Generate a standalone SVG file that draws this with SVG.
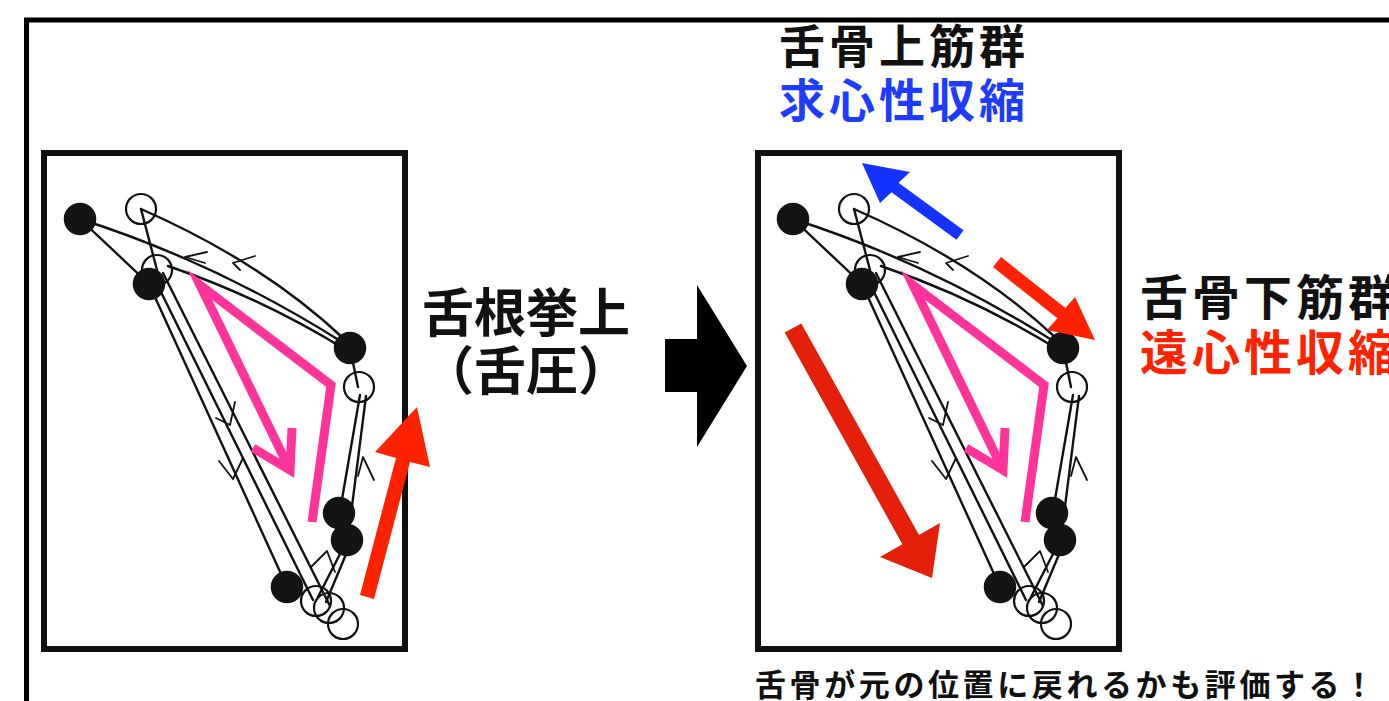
<svg xmlns="http://www.w3.org/2000/svg" xmlns:xlink="http://www.w3.org/1999/xlink" width="1389" height="701" viewBox="0 0 1389 701">
  <style>
    .frame { fill: none; stroke: #000; stroke-width: 5; }
    .panel { fill: #fff; stroke: #111; stroke-width: 6; }
    .bone { fill: none; stroke: #111; stroke-width: 2.4; stroke-linecap: round; }
    .tick { fill: none; stroke: #111; stroke-width: 1.8; stroke-linecap: round; stroke-linejoin: round; }
    .pt-before { fill: #141414; stroke: #141414; stroke-width: 1.5; }
    .pt-after { fill: none; stroke: #111; stroke-width: 2.2; }
    .motion { fill: none; stroke: #ff3399; stroke-width: 9; stroke-linejoin: miter; stroke-miterlimit: 10; }
    .jp { font-family: "Noto Sans CJK JP", "Noto Sans CJK SC", sans-serif; font-weight: 700; }
  </style>
  <defs>
    <!-- swallowing trace: filled = rest position, open = elevated position -->
    <g id="hyoid-trace">
      <g class="connectors">
        <path class="bone" d="M80,219 Q215,262 342,342"/>
        <path class="bone" d="M141,209 Q262,262 343,338"/>
        <path class="bone" d="M168,266 Q262,298 346,350"/>
        <path class="bone" d="M80,219 L149,284"/>
        <path class="bone" d="M141,209 L157,270"/>
        <path class="bone" d="M350,348 L358,387"/>
        <path class="bone" d="M360,395 L341,505"/>
        <path class="bone" d="M366,396 L349,530"/>
        <path class="bone" d="M342,550 L318,597"/>
        <path class="bone" d="M347,552 L326,602"/>
        <path class="bone" d="M149,284 L287,587"/>
        <path class="bone" d="M156,282 L313,600"/>
        <path class="bone" d="M163,273 L330,606"/>
        <polyline class="tick" points="207,252 185,257 205,263"/>
        <polyline class="tick" points="255,256 233,263 240,270"/>
        <polyline class="tick" points="216,418 230,425 235,402"/>
        <polyline class="tick" points="219,461 233,479 243,458"/>
        <polyline class="tick" points="358,476 363,457 374,480"/>
        <polyline class="tick" points="311,567 327,551 335,572"/>
      </g>
      <g id="points-after">
        <circle class="pt-after" cx="141" cy="209" r="15"/>
        <circle class="pt-after" cx="157" cy="270" r="15"/>
        <circle class="pt-after" cx="359" cy="387" r="15"/>
        <circle class="pt-after" cx="316" cy="601" r="15"/>
        <circle class="pt-after" cx="329" cy="608" r="15"/>
        <circle class="pt-after" cx="343" cy="624" r="15"/>
      </g>
      <g id="points-before">
        <circle class="pt-before" cx="80" cy="219" r="15.5"/>
        <circle class="pt-before" cx="149" cy="284" r="15.5"/>
        <circle class="pt-before" cx="350" cy="348" r="15.5"/>
        <circle class="pt-before" cx="339" cy="513" r="15.5"/>
        <circle class="pt-before" cx="347" cy="540" r="15.5"/>
        <circle class="pt-before" cx="287" cy="587" r="15.5"/>
      </g>
      <g id="tongue-motion">
        <polyline class="motion" points="312,522 331,385 200,285 290,470"/>
        <polyline class="motion" points="253,448 290,470 292,428"/>
      </g>
    </g>
  </defs>

  <!-- outer frame -->
  <path class="frame" d="M26.5,701 L26.5,20 L1389,20"/>

  <!-- before: tongue base elevation -->
  <g id="panel-before">
    <rect class="panel" x="44" y="153" width="361" height="496"/>
    <use xlink:href="#hyoid-trace"/>
    <polygon id="arrow-up" fill="#ff2200" points="360,595 396,458 375,452 417,407 430,467 410,462 374,599"/>
  </g>

  <!-- after -->
  <g id="panel-after">
    <rect class="panel" x="758" y="153" width="361" height="496"/>
    <use xlink:href="#hyoid-trace" transform="translate(713,0)"/>
    <polygon id="arrow-suprahyoid" fill="#1433ff" points="963.5,230.2 898.5,182.7 910,172 862,163 880,203 891.5,192.3 956.5,239.8"/>
    <polygon id="arrow-infrahyoid" fill="#ff2200" points="1001,257 1065.4,308.1 1075,297 1095,340 1047,330 1057.4,318.3 993,267"/>
    <polygon id="arrow-descent" fill="#e4200b" points="801.3,323.4 919,535.1 940,523 932,578 880,557 902.4,544.3 784.7,332.6"/>
  </g>

  <!-- transition arrow -->
  <g id="transition">
    <polygon fill="#000" points="665,339 697,339 697,285 747,366 697,447 697,392 665,392"/>
  </g>

  <!-- labels -->
  <g id="label-elevation" class="jp" text-anchor="middle">
    <text x="526" y="332" font-size="52" fill="#111">舌根挙上</text>
    <text x="526" y="390" font-size="52" fill="#111">（舌圧）</text>
  </g>
  <g id="label-suprahyoid" class="jp" text-anchor="middle">
    <text x="904" y="63" font-size="46" letter-spacing="4" fill="#111">舌骨上筋群</text>
    <text x="904" y="117" font-size="46" letter-spacing="4" fill="#1e3cff">求心性収縮</text>
  </g>
  <g id="label-infrahyoid" class="jp">
    <text x="1140" y="315" font-size="48" letter-spacing="4" fill="#111">舌骨下筋群</text>
    <text x="1140" y="370" font-size="48" letter-spacing="4" fill="#ff2200">遠心性収縮</text>
  </g>
  <g id="label-note" class="jp">
    <text x="755" y="696" font-size="31" letter-spacing="3.6" fill="#111">舌骨が元の位置に戻れるかも評価する！</text>
  </g>
</svg>
